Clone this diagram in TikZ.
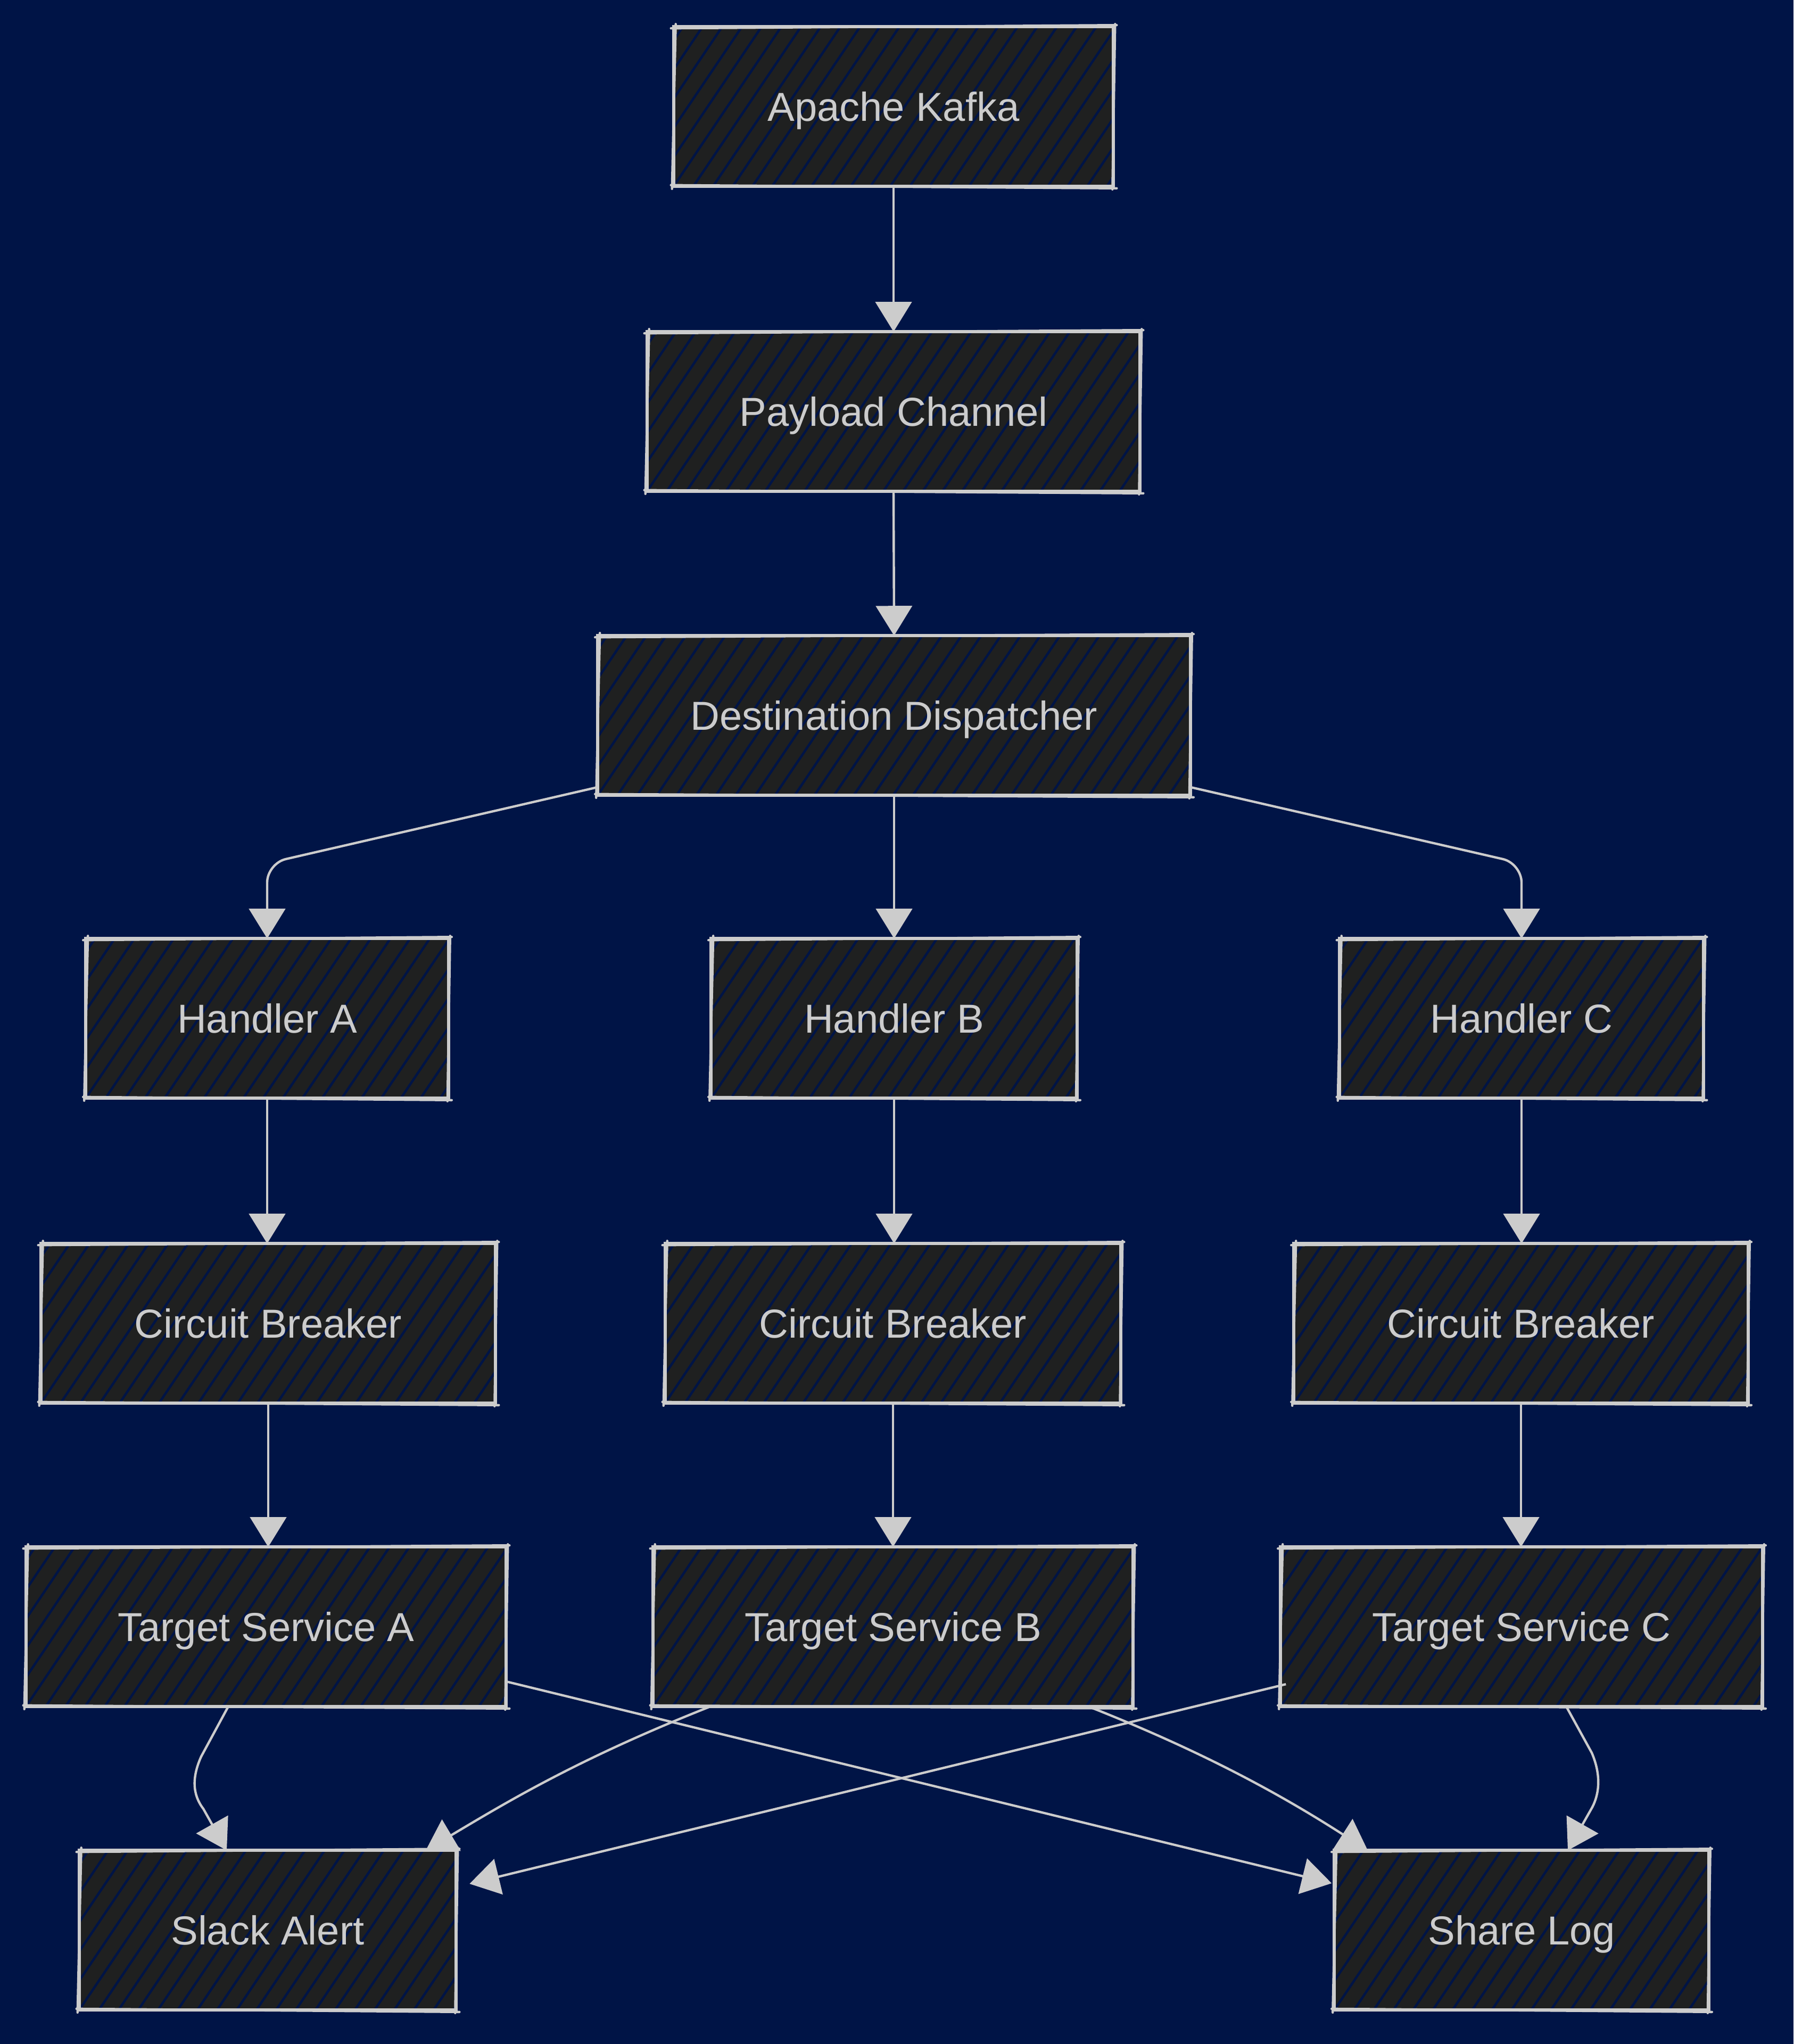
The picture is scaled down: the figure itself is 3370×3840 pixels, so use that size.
\documentclass[tikz,border=0pt]{standalone}
\usepackage{fontspec}
\setmainfont{Liberation Sans}
\usetikzlibrary{arrows.meta}

\definecolor{bgblue}{HTML}{001446}
\definecolor{boxfill}{HTML}{1F2020}
\definecolor{ink}{HTML}{CCCCCC}

\tikzset{
  bw/.style={minimum width=#1*0.25pt},
  box/.style={fill=boxfill, text=ink, inner sep=0pt,
    font=\fontsize{19}{22}\selectfont, text height=13.6pt, text depth=0pt,
    minimum height=298*0.25pt,
    path picture={
      \foreach \k in {-8,...,32}{
        \draw[bgblue, line width=1.1pt]
          ([xshift=\k*9.25pt]path picture bounding box.south west) -- ++(56:100pt);
      }
    }},
  edge/.style={draw=ink, line width=1.5pt, line cap=round},
  edgetwo/.style={draw=ink, line width=1.1pt, line cap=round},
  conn/.style={draw=ink, line width=1.1pt, -{Triangle[length=14pt,width=17pt]}},
}

% hand-drawn double outline around a box
\newcommand\sketchframe[1]{%
  \draw[edge] (#1.north west) rectangle (#1.south east);
  \draw[edgetwo]
    ([shift={(-5,3)}]#1.north west) -- ([shift={(6,-3)}]#1.north east)
    ([shift={(3,-5)}]#1.north east) -- ([shift={(-2,6)}]#1.south east)
    ([shift={(6,4)}]#1.south east) -- ([shift={(-5,-2)}]#1.south west)
    ([shift={(-3,5)}]#1.south west) -- ([shift={(4,-5)}]#1.north west);
}

\begin{document}
\begin{tikzpicture}[x=0.25pt,y=-0.25pt]
  \fill[bgblue] (0,0) rectangle (3370,3840);
  \useasboundingbox (0,0) rectangle (3370,3840);

  % boxes
  \node[box, bw=825]  (K)  at (1679,200)  {Apache Kafka};
  \node[box, bw=925]  (P)  at (1679,773)  {Payload Channel};
  \node[box, bw=1112] (D)  at (1680,1344) {Destination Dispatcher};
  \node[box, bw=680]  (HA) at (502,1913)  {Handler A};
  \node[box, bw=686]  (HB) at (1680,1913) {Handler B};
  \node[box, bw=683]  (HC) at (2859,1913) {Handler C};
  \node[box, bw=853]  (CA) at (504,2486)  {Circuit Breaker};
  \node[box, bw=855]  (CB) at (1678,2486) {Circuit Breaker};
  \node[box, bw=852]  (CC) at (2858,2486) {Circuit Breaker};
  \node[box, bw=901]  (TA) at (500,3056)  {Target Service A};
  \node[box, bw=901]  (TB) at (1678,3056) {Target Service B};
  \node[box, bw=904]  (TC) at (2859,3056) {Target Service C};
  \node[box, bw=707]  (SL) at (503,3626)  {Slack Alert};
  \node[box, bw=702]  (LG) at (2859,3626) {Share Log};

  \foreach \n in {K,P,D,HA,HB,HC,CA,CB,CC,TA,TB,TC,SL,LG}{\sketchframe{\n}}

  % connectors
  \draw[conn] (K.south) -- (P.north);
  \draw[conn] (P.south) -- (D.north);
  \draw[conn, rounded corners=9pt] ([yshift=3.75pt]D.south west) -- (HA.north |- 0,1622) -- (HA.north);
  \draw[conn] (D.south) -- (HB.north);
  \draw[conn, rounded corners=9pt] ([yshift=3.75pt]D.south east) -- (HC.north |- 0,1622) -- (HC.north);

  \draw[conn] (HA.south) -- (HA.south |- CA.north);
  \draw[conn] (HB.south) -- (HB.south |- CB.north);
  \draw[conn] (HC.south) -- (HC.south |- CC.north);
  \draw[conn] (CA.south) -- (CA.south |- TA.north);
  \draw[conn] (CB.south) -- (CB.south |- TB.north);
  \draw[conn] (CC.south) -- (CC.south |- TC.north);

  \draw[conn] ([shift={(-71,0)}]TA.south) -- (378,3300)
    .. controls (360,3340) and (362,3372) .. (382,3398) -- ([shift={(-77,0)}]SL.north);
  \draw[conn] ([shift={(0,103)}]TA.east) -- ([shift={(-5,-88)}]LG.west);
  \draw[conn] ([shift={(-343,0)}]TB.south)
    .. controls (1084,3305) and (950,3387) .. ([shift={(297,0)}]SL.north);
  \draw[conn] ([shift={(367,0)}]TB.south)
    .. controls (2274,3296) and (2420,3380) .. ([shift={(-289,0)}]LG.north);
  \draw[conn] ([shift={(10,108)}]TC.west) -- ([shift={(25,-87)}]SL.east);
  \draw[conn] ([shift={(84,0)}]TC.south) -- (2991,3293)
    .. controls (3009,3335) and (3005,3370) .. (2992,3395) -- ([shift={(87,0)}]LG.north);
\end{tikzpicture}
\end{document}
